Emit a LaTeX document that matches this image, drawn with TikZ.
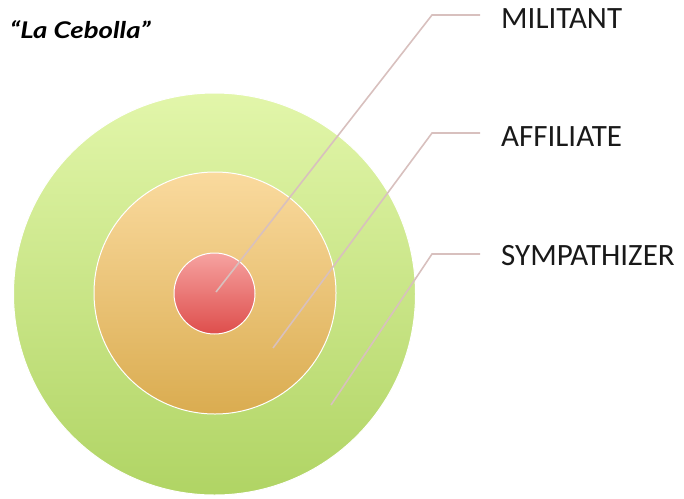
\documentclass[tikz,border=0pt]{standalone}
\usepackage{fontspec}
\setmainfont{Carlito}
\newfontfamily\titlefont{Lato}
\begin{document}
\begin{tikzpicture}[x=1pt,y=-1pt,
  ring/.style={circle,draw=white,line width=1pt,inner sep=0pt},
  leader/.style={draw={rgb,255:red,216;green,192;blue,190},line width=1.6pt},
  lab/.style={anchor=west,font=\fontsize{31}{33}\selectfont,inner sep=0pt,text=black!90}]
\useasboundingbox (0,0) rectangle (684,498);
\node[ring,minimum size=402pt,top color={rgb,255:red,226;green,246;blue,170},bottom color={rgb,255:red,176;green,212;blue,100}] (outer) at (214.5,294) {};
\node[ring,minimum size=242pt,top color={rgb,255:red,250;green,218;blue,158},bottom color={rgb,255:red,218;green,172;blue,80}] (middle) at (215,293) {};
\node[ring,minimum size=81pt,top color={rgb,255:red,246;green,162;blue,160},bottom color={rgb,255:red,222;green,78;blue,76}] (inner) at (214.5,293.5) {};
\node[anchor=west,inner sep=0pt,font=\titlefont\bfseries\itshape\fontsize{23}{25}\selectfont] (title) at (10,30) {\scalebox{1.2}[1]{“La Cebolla”}};
\node[lab] (mil) at (501,18.5) {MILITANT};
\node[lab] (aff) at (501,137) {AFFILIATE};
\node[lab] (sym) at (501,255.5) {SYMPATHIZER};
\coordinate (m0) at (216,292); \coordinate (m1) at (432,15); \coordinate (m2) at (480,15);
\coordinate (a0) at (273,348); \coordinate (a1) at (432,133); \coordinate (a2) at (480,133);
\coordinate (s0) at (331,405); \coordinate (s1) at (432,254); \coordinate (s2) at (480,254);
\draw[leader] (m0) -- (m1) -- (m2);
\draw[leader] (a0) -- (a1) -- (a2);
\draw[leader] (s0) -- (s1) -- (s2);
\end{tikzpicture}
\end{document}
